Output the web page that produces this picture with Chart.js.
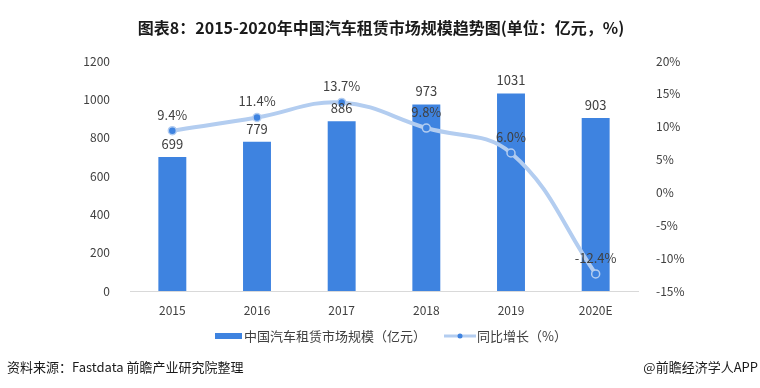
<!DOCTYPE html>
<html>
<head>
<meta charset="utf-8">
<script src="https://cdn.jsdelivr.net/npm/chart.js@4/dist/chart.umd.min.js"></script>
<style>
  html, body { margin: 0; padding: 0; background: #fff; }
  #wrap { position: relative; width: 760px; height: 388px; }
</style>
</head>
<body>
<div id="wrap"><canvas id="c" width="760" height="388"></canvas></div>
<script>
// data
const years = ["2015", "2016", "2017", "2018", "2019", "2020E"];
const marketSize = [699, 779, 886, 973, 1031, 903]; // 亿元
const growth = [9.4, 11.4, 13.7, 9.8, 6.0, -12.4]; // %
const leftTicks = [0, 200, 400, 600, 800, 1000, 1200];
const rightTicks = [-15, -10, -5, 0, 5, 10, 15, 20];

const BAR = "#3e83e0";
const LINE = "#b3cdf0";
const INK = "#404040";
const AXIS = "#d9d9d9";
const FONT = '"Noto Sans CJK SC", "Noto Sans", sans-serif';

const TITLE = "图表8：2015-2020年中国汽车租赁市场规模趋势图(单位：亿元，%)";
const SERIES_BAR = "中国汽车租赁市场规模（亿元）";
const SERIES_LINE = "同比增长（%）";
const SOURCE = "资料来源：Fastdata 前瞻产业研究院整理";
const BRAND = "@前瞻经济学人APP";

// title, legend, footer and value labels drawn on the canvas
const decor = {
  id: "decor",
  afterDatasetsDraw(chart) {
    const ctx = chart.ctx;
    ctx.save();
    ctx.textBaseline = "middle";

    // value labels (dataset 0 = line, dataset 1 = bars)
    ctx.fillStyle = INK;
    ctx.font = "13px " + FONT;
    ctx.textAlign = "center";
    chart.getDatasetMeta(1).data.forEach((bar, i) => {
      ctx.fillText(String(marketSize[i]), bar.x, bar.y - 13);
    });
    chart.getDatasetMeta(0).data.forEach((pt, i) => {
      ctx.fillText(growth[i].toFixed(1) + "%", pt.x, pt.y - 16);
    });

    // title
    ctx.fillStyle = "#1a1a1a";
    ctx.font = "bold 16px " + FONT;
    ctx.fillText(TITLE, 381, 28);

    // legend
    ctx.font = "13px " + FONT;
    ctx.textAlign = "left";
    ctx.fillStyle = BAR;
    ctx.fillRect(215, 333, 27, 6);
    ctx.fillStyle = INK;
    ctx.fillText(SERIES_BAR, 244, 336);
    ctx.strokeStyle = LINE;
    ctx.lineWidth = 3;
    ctx.beginPath();
    ctx.moveTo(444, 336);
    ctx.lineTo(476, 336);
    ctx.stroke();
    ctx.fillStyle = BAR;
    ctx.beginPath();
    ctx.arc(460, 336, 2.5, 0, Math.PI * 2);
    ctx.fill();
    ctx.fillStyle = INK;
    ctx.fillText(SERIES_LINE, 477, 336);

    // footer
    ctx.fillStyle = "#1a1a1a";
    ctx.font = "13px " + FONT;
    ctx.fillText(SOURCE, 7, 367);
    ctx.textAlign = "right";
    ctx.fillText(BRAND, 758, 367);
    ctx.restore();
  },
};

new Chart(document.getElementById("c"), {
  data: {
    labels: years,
    datasets: [
      {
        type: "line",
        label: SERIES_LINE,
        data: growth,
        yAxisID: "y1",
        borderColor: LINE,
        borderWidth: 4,
        tension: 0.4,
        pointRadius: 4,
        pointBackgroundColor: BAR,
        pointBorderColor: LINE,
        pointBorderWidth: 1.5,
        order: 0,
      },
      {
        type: "bar",
        label: SERIES_BAR,
        data: marketSize,
        yAxisID: "y",
        backgroundColor: BAR,
        barPercentage: 0.33,
        categoryPercentage: 1,
        order: 1,
      },
    ],
  },
  options: {
    responsive: false,
    animation: false,
    layout: { padding: { top: 61, bottom: 72, left: 0, right: 0 } },
    plugins: { legend: { display: false }, title: { display: false }, tooltip: { enabled: false } },
    scales: {
      x: {
        grid: { display: false },
        border: { color: AXIS },
        ticks: { color: INK, font: { family: FONT, size: 12 }, padding: 4 },
        afterFit: (s) => { s.height = 25; },
      },
      y: {
        position: "left",
        min: 0,
        max: 1200,
        afterBuildTicks: (s) => { s.ticks = leftTicks.map((v) => ({ value: v })); },
        grid: { display: false },
        border: { display: false },
        ticks: { color: INK, font: { family: FONT, size: 12 }, padding: 12, callback: (v) => String(v) },
        afterFit: (s) => { s.width = 130; },
      },
      y1: {
        position: "right",
        min: -15,
        max: 20,
        afterBuildTicks: (s) => { s.ticks = rightTicks.map((v) => ({ value: v })); },
        grid: { display: false },
        border: { display: false },
        ticks: { color: INK, font: { family: FONT, size: 12 }, padding: 10, callback: (v) => v + "%" },
        afterFit: (s) => { s.width = 122; },
      },
    },
  },
  plugins: [decor],
});
</script>
</body>
</html>
